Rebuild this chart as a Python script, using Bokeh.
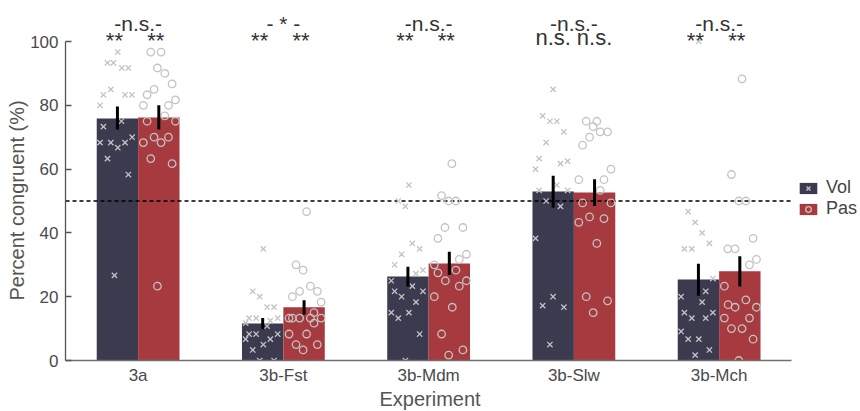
from bokeh.plotting import figure
from bokeh.models import Range1d, FixedTicker, Legend, LegendItem, Title
from bokeh.core.properties import value
from bokeh.embed import file_html
from bokeh.resources import INLINE

# ---------------- data ----------------
experiments = ["3a", "3b-Fst", "3b-Mdm", "3b-Slw", "3b-Mch"]
series = ["Vol", "Pas"]
vol_mean = [75.9, 11.6, 26.3, 53.0, 25.4]
pas_mean = [76.2, 16.7, 30.4, 52.7, 28.0]
vol_lo = [72.4, 9.8, 23.2, 47.9, 20.3]
vol_hi = [79.6, 13.3, 29.4, 57.9, 30.3]
pas_lo = [72.4, 14.4, 26.8, 48.4, 23.2]
pas_hi = [80.0, 18.9, 34.1, 56.8, 32.7]
chance = 50
between_sig = ["-n.s.-", "- * -", "-n.s.-", "-n.s.-", "-n.s.-"]
vol_sig = ["**", "**", "**", "n.s.", "**"]
pas_sig = ["**", "**", "**", "n.s.", "**"]

# individual participants (percent) and horizontal jitter (category units from group centre)
vol_pts = [
    [96.7, 93.3, 93.3, 91.7, 91.7, 85.0, 83.3, 83.3, 83.3, 80.0, 75.0, 73.3, 70.0, 68.3, 68.3, 68.3, 66.7, 63.3, 58.3, 26.7],
    [35.0, 21.7, 20.0, 16.7, 16.7, 13.3, 13.3, 13.3, 12.5, 11.7, 10.8, 8.3, 8.3, 8.3, 6.7, 6.7, 5.0, 3.3, 0.0, 0.0],
    [55.0, 50.0, 48.3, 36.7, 35.0, 33.3, 30.0, 28.3, 27.2, 25.0, 23.3, 21.7, 21.7, 20.0, 18.3, 15.0, 15.0, 13.3, 8.3, 0.0],
    [85.0, 76.7, 75.0, 75.0, 71.7, 68.3, 63.3, 61.7, 62.5, 60.0, 55.0, 53.3, 53.3, 50.0, 48.3, 38.3, 20.0, 17.2, 16.7, 5.0],
    [100.0, 46.7, 43.3, 40.0, 36.7, 35.0, 35.0, 25.7, 21.7, 20.0, 18.3, 15.0, 15.0, 13.3, 13.3, 9.1, 6.7, 6.7, 3.3, 1.7],
]
vol_jit = [
    [-0.140, -0.211, -0.170, -0.112, -0.067, -0.188, -0.239, -0.090, -0.043, -0.262, -0.115, -0.239, -0.041, -0.262, -0.188, -0.090, -0.140, -0.211, -0.067, -0.163],
    [-0.138, -0.211, -0.163, -0.112, -0.064, -0.236, -0.188, -0.039, -0.090, -0.260, -0.112, -0.236, -0.188, -0.039, -0.260, -0.090, -0.138, -0.211, -0.163, -0.064],
    [-0.136, -0.209, -0.160, -0.112, -0.062, -0.186, -0.234, -0.039, -0.087, -0.257, -0.112, -0.234, -0.039, -0.186, -0.087, -0.257, -0.136, -0.209, -0.062, -0.160],
    [-0.143, -0.215, -0.165, -0.117, -0.069, -0.191, -0.239, -0.092, -0.043, -0.264, -0.117, -0.239, -0.043, -0.191, -0.092, -0.264, -0.143, -0.215, -0.069, -0.165],
    [-0.140, -0.213, -0.165, -0.117, -0.067, -0.239, -0.188, -0.043, -0.092, -0.262, -0.117, -0.239, -0.043, -0.188, -0.092, -0.262, -0.213, -0.140, -0.067, -0.165],
]
pas_pts = [
    [96.7, 96.7, 91.7, 90.0, 86.7, 85.0, 83.3, 81.7, 80.0, 80.0, 76.7, 75.0, 75.0, 70.0, 70.0, 68.3, 68.3, 63.3, 61.7, 23.3],
    [46.7, 30.0, 28.3, 23.3, 21.7, 21.7, 20.0, 18.3, 13.3, 13.3, 13.3, 13.3, 13.3, 15.0, 11.7, 8.3, 8.3, 5.0, 5.0, 3.3],
    [61.7, 51.7, 50.0, 50.0, 41.7, 41.7, 38.3, 33.3, 31.7, 30.0, 27.5, 28.3, 25.0, 25.0, 23.3, 20.0, 16.7, 8.3, 3.3, 1.7],
    [75.0, 75.0, 73.3, 71.7, 71.7, 70.0, 67.5, 60.0, 56.7, 56.7, 53.3, 49.4, 49.4, 45.0, 44.5, 43.3, 36.7, 20.0, 18.7, 15.0],
    [88.3, 58.3, 50.0, 50.0, 38.3, 35.0, 35.0, 31.7, 30.0, 23.3, 17.5, 19.0, 16.7, 16.7, 13.3, 13.3, 10.0, 10.0, 6.7, 0.0],
]
pas_jit = [
    [0.087, 0.158, 0.133, 0.184, 0.234, 0.110, 0.062, 0.257, 0.036, 0.209, 0.184, 0.062, 0.257, 0.110, 0.209, 0.036, 0.158, 0.087, 0.234, 0.133],
    [0.160, 0.087, 0.136, 0.186, 0.234, 0.112, 0.062, 0.260, 0.039, 0.062, 0.112, 0.186, 0.260, 0.211, 0.211, 0.039, 0.160, 0.087, 0.234, 0.136],
    [0.160, 0.089, 0.138, 0.188, 0.112, 0.236, 0.064, 0.260, 0.211, 0.039, 0.064, 0.188, 0.115, 0.260, 0.211, 0.039, 0.163, 0.089, 0.236, 0.138],
    [0.085, 0.158, 0.133, 0.181, 0.232, 0.108, 0.060, 0.255, 0.034, 0.207, 0.181, 0.060, 0.255, 0.108, 0.207, 0.034, 0.158, 0.085, 0.232, 0.133],
    [0.158, 0.085, 0.136, 0.184, 0.234, 0.060, 0.110, 0.257, 0.209, 0.036, 0.062, 0.184, 0.110, 0.257, 0.036, 0.209, 0.085, 0.158, 0.234, 0.136],
]

# ---------------- styling ----------------
VOL_COLOR = "#3b3a4e"
PAS_COLOR = "#a63a3f"
PT_COLOR = "#c3c3c3"
FONT = "Liberation Sans"
BAR_W = 0.285
DODGE = 0.1425
PX_PER_UNIT = 3.19

n = len(experiments)
centers = [i + 0.5 for i in range(n)]

p = figure(width=860, height=411, x_range=Range1d(0, 795 / 145.25), y_range=Range1d(0, 355 / PX_PER_UNIT),
           output_backend="svg", toolbar_location=None,
           min_border_left=65, min_border_right=0, min_border_top=5, min_border_bottom=51)
p.outline_line_color = None
p.xgrid.visible = False
p.ygrid.visible = False
p.background_fill_color = "white"
p.border_fill_color = "white"

# bars
vol_bar = p.vbar(x=[c - DODGE for c in centers], top=vol_mean, width=BAR_W, bottom=0,
                 fill_color=VOL_COLOR, line_color=None)
pas_bar = p.vbar(x=[c + DODGE for c in centers], top=pas_mean, width=BAR_W, bottom=0,
                 fill_color=PAS_COLOR, line_color=None)

# chance line
p.line(x=[0, n], y=[chance, chance], line_color="black", line_width=1.3, line_dash="4 3")

# participants
vx, vy, px_, py = [], [], [], []
for i in range(n):
    vx += [centers[i] + j for j in vol_jit[i]]
    vy += vol_pts[i]
    px_ += [centers[i] + j for j in pas_jit[i]]
    py += pas_pts[i]
vol_sc = p.scatter(x=vx, y=vy, marker="x", size=7.5, line_color=PT_COLOR, line_width=1.3)
pas_sc = p.scatter(x=px_, y=py, marker="circle", size=7.5, fill_color=None, line_color=PT_COLOR, line_width=1.3)

# error bars
p.segment(x0=[c - DODGE for c in centers], x1=[c - DODGE for c in centers], y0=vol_lo, y1=vol_hi,
          line_color="black", line_width=3)
p.segment(x0=[c + DODGE for c in centers], x1=[c + DODGE for c in centers], y0=pas_lo, y1=pas_hi,
          line_color="black", line_width=3)

# significance annotations (above the 0-100 scale)
txt = dict(text_align="center", text_baseline="alphabetic", text_font=value(FONT), text_color="#333333")
p.text(x=centers, y=[105.7] * n, text=between_sig, text_font_size="21px", **txt)
star_x, star_t, ns_x, ns_t = [], [], [], []
for i in range(n):
    for xx, s in ((centers[i] - DODGE, vol_sig[i]), (centers[i] + DODGE, pas_sig[i])):
        if s.startswith("*"):
            star_x.append(xx); star_t.append(s)
        else:
            ns_x.append(xx); ns_t.append(s)
p.text(x=star_x, y=[100.2] * len(star_x), text=star_t, x_offset=-3, text_font_size="22px", **txt)
p.text(x=ns_x, y=[101.3] * len(ns_x), text=ns_t, text_font_size="22px", **txt)

# axes
xa = p.xaxis[0]
xa.ticker = FixedTicker(ticks=centers)
xa.major_label_overrides = {c: e for c, e in zip(centers, experiments)}
xa.bounds = (0, n)
xa.major_label_text_font = FONT
xa.major_label_text_font_size = "17px"
xa.major_label_text_color = "#4a4a4a"
xa.major_label_standoff = 5
xa.major_tick_in = 0
xa.major_tick_out = 0
xa.major_tick_line_color = None
xa.minor_tick_line_color = None
xa.axis_line_color = "#707070"
xa.axis_line_width = 1.5

# x-axis title, centred under the five experiments
p.add_layout(Title(text="Experiment", align="left", offset=314, standoff=0, vertical_align="top",
                   text_font=FONT, text_font_size="20px", text_font_style="normal",
                   text_color="#555555"), "below")

ya = p.yaxis[0]
ya.ticker = FixedTicker(ticks=[0, 20, 40, 60, 80, 100])
ya.bounds = (0, 100)
ya.major_label_text_font = FONT
ya.major_label_text_font_size = "17px"
ya.major_label_text_color = "#4a4a4a"
ya.major_label_standoff = 7
ya.major_tick_in = 6
ya.major_tick_out = 0
ya.major_tick_line_color = "#555555"
ya.major_tick_line_width = 1.3
ya.minor_tick_line_color = None
ya.axis_line_color = "#555555"
ya.axis_line_width = 1.3

# y-axis title, centred on the 0-100 scale
p.add_layout(Title(text="Percent congruent (%)", align="left", offset=60, standoff=0,
                   text_font=FONT, text_font_size="20px", text_font_style="normal",
                   text_color="#555555"), "left")

# legend
legend = Legend(items=[LegendItem(label=series[0], renderers=[vol_bar, vol_sc]),
                       LegendItem(label=series[1], renderers=[pas_bar, pas_sc])],
                location=(732, 141), padding=0, margin=0, spacing=0,
                glyph_width=22, glyph_height=14, label_height=14, label_standoff=7,
                label_text_font=FONT, label_text_font_size="18px", label_text_color="#444444",
                border_line_color=None, background_fill_alpha=0)
p.add_layout(legend, "center")

open("out.html", "w").write(file_html(p, INLINE))
